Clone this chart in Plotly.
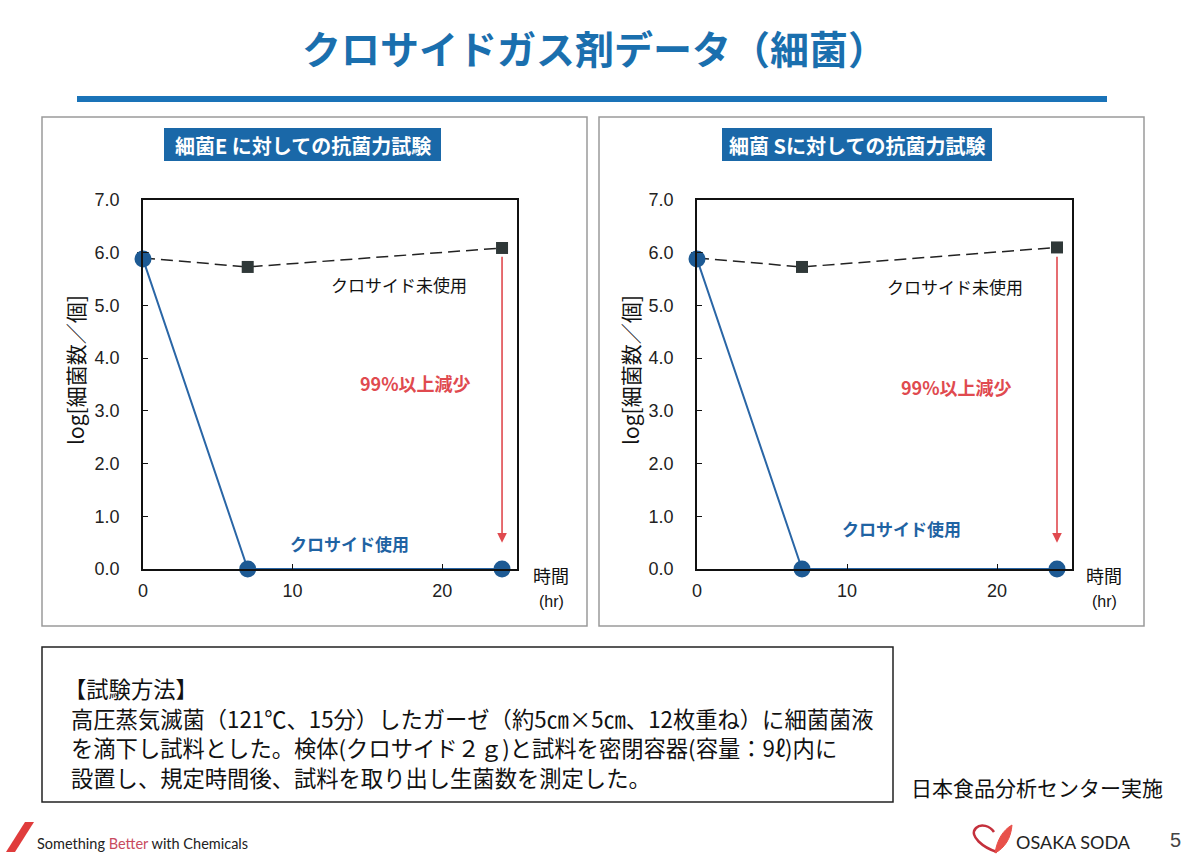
import plotly.graph_objects as go

# data
time_h = [0, 7, 24]
e_untreated = [5.90, 5.73, 6.09]
e_treated = [5.88, 0.0, 0.0]
s_untreated = [5.90, 5.73, 6.10]
s_treated = [5.88, 0.0, 0.0]
y_ticks = [0, 1, 2, 3, 4, 5, 6, 7]
x_ticks = [0, 10, 20]
panel_titles = ["細菌E に対しての抗菌力試験", "細菌 Sに対しての抗菌力試験"]

W, H = 1200, 857
JP = "Noto Sans CJK JP"
BLUE = "#1a68a8"
RED = "#e04a4f"


def px(x):
    return x / W


def py(y):
    return 1 - y / H


fig = go.Figure()

panels = [
    dict(xa="x", ya="y", unt=e_untreated, trt=e_treated),
    dict(xa="x2", ya="y2", unt=s_untreated, trt=s_treated),
]
for p in panels:
    fig.add_trace(go.Scatter(x=time_h, y=p["unt"], xaxis=p["xa"], yaxis=p["ya"],
                             mode="lines+markers", cliponaxis=False,
                             line=dict(color="#222", width=1.5, dash="12px,6px"),
                             marker=dict(symbol="square", size=12, color="#2f3838"),
                             showlegend=False))
    fig.add_trace(go.Scatter(x=time_h, y=p["trt"], xaxis=p["xa"], yaxis=p["ya"],
                             mode="lines+markers", cliponaxis=False,
                             line=dict(color="#2a66a6", width=2),
                             marker=dict(symbol="circle", size=17, color="#1d5a94"),
                             showlegend=False))

axis_common = dict(showline=True, linecolor="#111", linewidth=1.5, mirror=True,
                   showgrid=False, zeroline=False, ticks="inside", ticklen=5,
                   tickcolor="#111", automargin=False,
                   tickfont=dict(family="Liberation Sans", size=18, color="#222"))

fig.update_layout(
    width=W, height=H, margin=dict(l=0, r=0, t=0, b=0, pad=0, autoexpand=False),
    paper_bgcolor="white", plot_bgcolor="white",
    xaxis=dict(domain=[px(143), px(517)], range=[0, 25], tickvals=x_ticks, anchor="y",
               ticklabelstandoff=5, **axis_common),
    yaxis=dict(domain=[py(569), py(200)], range=[0, 7], tickvals=y_ticks, tickformat=".1f",
               anchor="x", ticklabelstandoff=18, **axis_common),
    xaxis2=dict(domain=[px(697), px(1072)], range=[0, 25], tickvals=x_ticks, anchor="y2",
                ticklabelstandoff=5, **axis_common),
    yaxis2=dict(domain=[py(569), py(200)], range=[0, 7], tickvals=y_ticks, tickformat=".1f",
                anchor="x2", ticklabelstandoff=18, **axis_common),
)

shapes = []
ann = []


def note(x, y, text, font, xref="paper", yref="paper", **kw):
    d = dict(x=x, y=y, xref=xref, yref=yref, text=text, font=font, showarrow=False,
             xanchor="center", yanchor="middle")
    d.update(kw)
    ann.append(d)


# title and rule
note(px(594), py(47), "<b>クロサイドガス剤データ（細菌）</b>",
     dict(family=JP, size=39, color="#1a6fae"))
shapes.append(dict(type="line", xref="paper", yref="paper", x0=px(77), x1=px(1107),
                   y0=py(99), y1=py(99), line=dict(color="#1a73b8", width=6)))

# panel frames and header boxes
frames = [(42, 587, 164, 441), (599, 1144, 722, 992)]
for i, (fx0, fx1, hx0, hx1) in enumerate(frames):
    shapes.append(dict(type="rect", xref="paper", yref="paper", x0=px(fx0), x1=px(fx1),
                       y0=py(626), y1=py(117), line=dict(color="#9a9a9a", width=1.5)))
    shapes.append(dict(type="rect", xref="paper", yref="paper", x0=px(hx0), x1=px(hx1),
                       y0=py(161), y1=py(128), line=dict(width=0), fillcolor=BLUE))
    note(px((hx0 + hx1) / 2), py(145), "<b>" + panel_titles[i] + "</b>",
         dict(family=JP, size=20, color="white"))

# in-chart labels
chart_labels = [
    ("x", "y", 17.1, 5.39, 18.2, 3.53, 13.8, 0.49, 75, 551),
    ("x2", "y2", 17.2, 5.35, 17.3, 3.45, 13.6, 0.76, 630, 1104),
]
for xa, ya, ux, uy, rx, ry, tx, ty, ytx, hx in chart_labels:
    note(ux, uy, "クロサイド未使用", dict(family=JP, size=17, color="#111"), xref=xa, yref=ya)
    note(rx, ry, "<b>99%以上減少</b>", dict(family=JP, size=18, color=RED), xref=xa, yref=ya)
    note(tx, ty, "<b>クロサイド使用</b>", dict(family=JP, size=17, color="#1f63a3"), xref=xa, yref=ya)
    ann.append(dict(x=time_h[-1], y=0.5, ax=time_h[-1], ay=5.95, xref=xa, yref=ya,
                    axref=xa, ayref=ya, text="", showarrow=True, arrowhead=2,
                    arrowsize=1.2, arrowwidth=1.6, arrowcolor=RED))
    note(px(ytx), py(370), "log[細菌数／個]", dict(family=JP, size=21, color="#111"),
         textangle=-90)
    note(px(hx), py(575), "時間", dict(family=JP, size=18, color="#111"))
    note(px(hx), py(601), "(hr)", dict(family="Liberation Sans", size=16, color="#111"))

# method box
shapes.append(dict(type="rect", xref="paper", yref="paper", x0=px(42), x1=px(893),
                   y0=py(802), y1=py(647), line=dict(color="#222", width=1.5)))
method_lines = [
    "【試験方法】",
    "高圧蒸気滅菌（121℃、15分）したガーゼ（約5㎝×5㎝、12枚重ね）に細菌菌液",
    "を滴下し試料とした。検体(クロサイド２ｇ)と試料を密閉容器(容量：9ℓ)内に",
    "設置し、規定時間後、試料を取り出し生菌数を測定した。",
]
for i, line in enumerate(method_lines):
    note(px(62 if i == 0 else 69), py(688 + i * 29.5), line,
         dict(family=JP, size=22.3, color="#111"), xanchor="left")
note(px(1165), py(787), "日本食品分析センター実施", dict(family=JP, size=21, color="#111"),
     xanchor="right")

# footer
shapes.append(dict(type="path", xref="paper", yref="paper",
                   path="M %f %f L %f %f L %f %f L %f %f Z" % (
                       px(6), py(852), px(15), py(852), px(34), py(822), px(25), py(822)),
                   fillcolor="#e03c3c", line=dict(width=0)))
note(px(35), py(843), "Something <span style='color:#c84a5e'>Better</span> with Chemicals",
     dict(family="Lato", size=14.5, color="#222"), xanchor="left")
# osaka soda mark: loop outline + leaf
shapes.append(dict(type="path", xref="paper", yref="paper",
                   path="M %f %f C %f %f %f %f %f %f C %f %f %f %f %f %f" % (
                       px(997), py(852), px(984), py(848), px(968), py(836), px(976), py(828),
                       px(981), py(823), px(990), py(826), px(994), py(832)),
                   line=dict(color="#c4303c", width=2.5)))
shapes.append(dict(type="path", xref="paper", yref="paper",
                   path="M %f %f C %f %f %f %f %f %f C %f %f %f %f %f %f Z" % (
                       px(995), py(853), px(997), py(840), px(1003), py(830), px(1012), py(825),
                       px(1011), py(838), px(1005), py(848), px(995), py(853)),
                   fillcolor="#e8504a", line=dict(color="#e8504a", width=1)))
note(px(1014), py(842), "OSAKA SODA", dict(family="Lato", size=18, color="#222"),
     xanchor="left")
note(px(1175), py(840), "5", dict(family="Liberation Sans", size=20, color="#444"))

fig.update_layout(shapes=shapes, annotations=ann)
fig.write_html("out.html", config={"displayModeBar": False},
               post_script="document.body.style.margin='0px';")
